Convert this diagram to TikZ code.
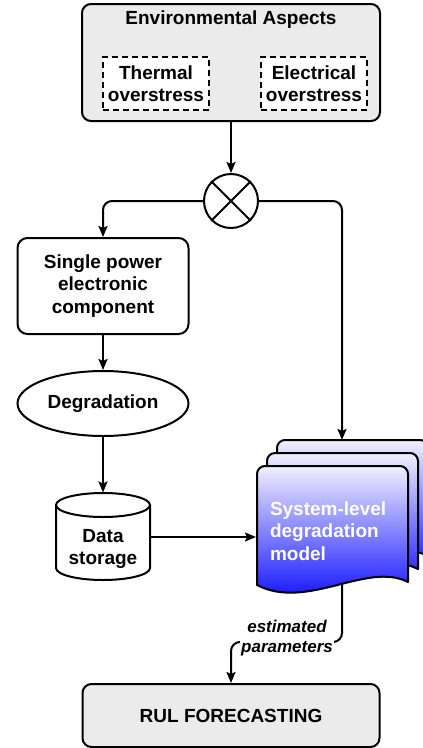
\documentclass[tikz,border=0pt]{standalone}
\usepackage{fontspec}
\setmainfont{Liberation Sans}
\usetikzlibrary{arrows.meta,shapes.geometric,calc}
\pgfdeclarelayer{bg}\pgfsetlayers{bg,main}
\definecolor{envgray}{RGB}{235,235,235}
\definecolor{doctop}{RGB}{240,240,255}
\newcommand{\docpath}[2]{[rounded corners=8pt] (#1,#2+60) -- (#1,#2) -- (#1+151,#2) -- (#1+151,#2+60) [sharp corners] -- (#1+151,#2+116) .. controls (#1+110,#2+95) and (#1+50,#2+145) .. (#1,#2+119) -- cycle}
\begin{document}
\begin{tikzpicture}[x=1pt,y=-1pt,line width=2pt,
  every path/.style={line width=2pt},
  txt/.style={font=\fontsize{19}{22.5}\selectfont\bfseries, align=center, inner sep=0pt},
  graybox/.style={draw, line width=2pt, rounded corners=9pt, fill=envgray, inner sep=0pt},
  dashbox/.style={draw, line width=2pt, dash pattern=on 6pt off 4pt, fill=white, inner sep=0pt, minimum width=106pt, minimum height=53pt, txt},
  arr/.style={line width=2pt, -{Stealth[length=11pt,width=9pt,inset=2pt]}},
  docfill/.style={draw, line width=2pt, top color=doctop, bottom color=blue, line join=round}]
\useasboundingbox (0,0) rectangle (423,748);
% Environmental aspects
\node[graybox, minimum width=298pt, minimum height=117pt] (env) at (231,62.5) {};
\node[txt] (envtitle) at (231,20) {Environmental Aspects};
\node[dashbox] (thermal) at (156,83.5) {Thermal\\overstress};
\node[dashbox] (electrical) at (314,83.5) {Electrical\\overstress};
% mixer
\node[circle, draw, line width=2pt, fill=white, minimum size=54pt, inner sep=0pt] (mix) at (231,201) {};
\draw[line width=2pt] (mix.north west) -- (mix.south east) (mix.north east) -- (mix.south west);
% single component
\node[draw, line width=2pt, rounded corners=10pt, fill=white, minimum width=171pt, minimum height=96pt, txt] (single) at (103,286) {Single power\\electronic\\component};
\node[draw, line width=2pt, ellipse, fill=white, minimum width=171pt, minimum height=65pt, txt] (degr) at (103,403.5) {Degradation};
% cylinder
\node[minimum width=94pt, minimum height=87pt, inner sep=0pt] (store) at (103,537) {};
\path[draw, line width=2pt, fill=white] (56,505) -- (56,568) arc[start angle=180,end angle=0,x radius=47,y radius=12] -- (150,505) arc[start angle=0,end angle=-180,x radius=47,y radius=12] -- cycle;
\draw[line width=2pt] (56,505) arc[start angle=180,end angle=0,x radius=47,y radius=12];
\node[txt] (storetext) at (103,549) {Data\\storage};
% documents
\path[docfill] \docpath{277}{440};
\path[docfill] \docpath{267}{453};
\path[docfill] \docpath{257}{466};
\node[minimum width=151pt, minimum height=119pt, inner sep=0pt] (doc) at (332.5,525.5) {};
\node[txt, text=white, align=left, anchor=west] (doctext) at (269,531) {System-level\\degradation\\model};
\coordinate (backtop) at (342,440);
\coordinate (docout) at (342,584);
% label
\node[font=\fontsize{17}{20}\selectfont\bfseries\itshape, align=center, fill=white, inner sep=1pt] (lbl) at (287,638) {estimated\\parameters};
% RUL
\node[graybox, minimum width=297pt, minimum height=63pt, txt] (rul) at (231,715.5) {RUL FORECASTING};
% connectors
\draw[arr] (env.south) -- (mix.north);
\draw[arr, rounded corners=9pt] (mix.west) -| (single.north);
\draw[arr, rounded corners=9pt] (mix.east) -| (backtop);
\draw[arr] (single.south) -- (degr.north);
\draw[arr] (degr.south) -- (store.north);
\draw[arr] (store.east) -- (store.east -| doc.west);
\begin{pgfonlayer}{bg}
\draw[arr, rounded corners=9pt] (docout) |- ($(lbl.center)+(0,4)$) -| (rul.north);
\end{pgfonlayer}
\end{tikzpicture}
\end{document}
